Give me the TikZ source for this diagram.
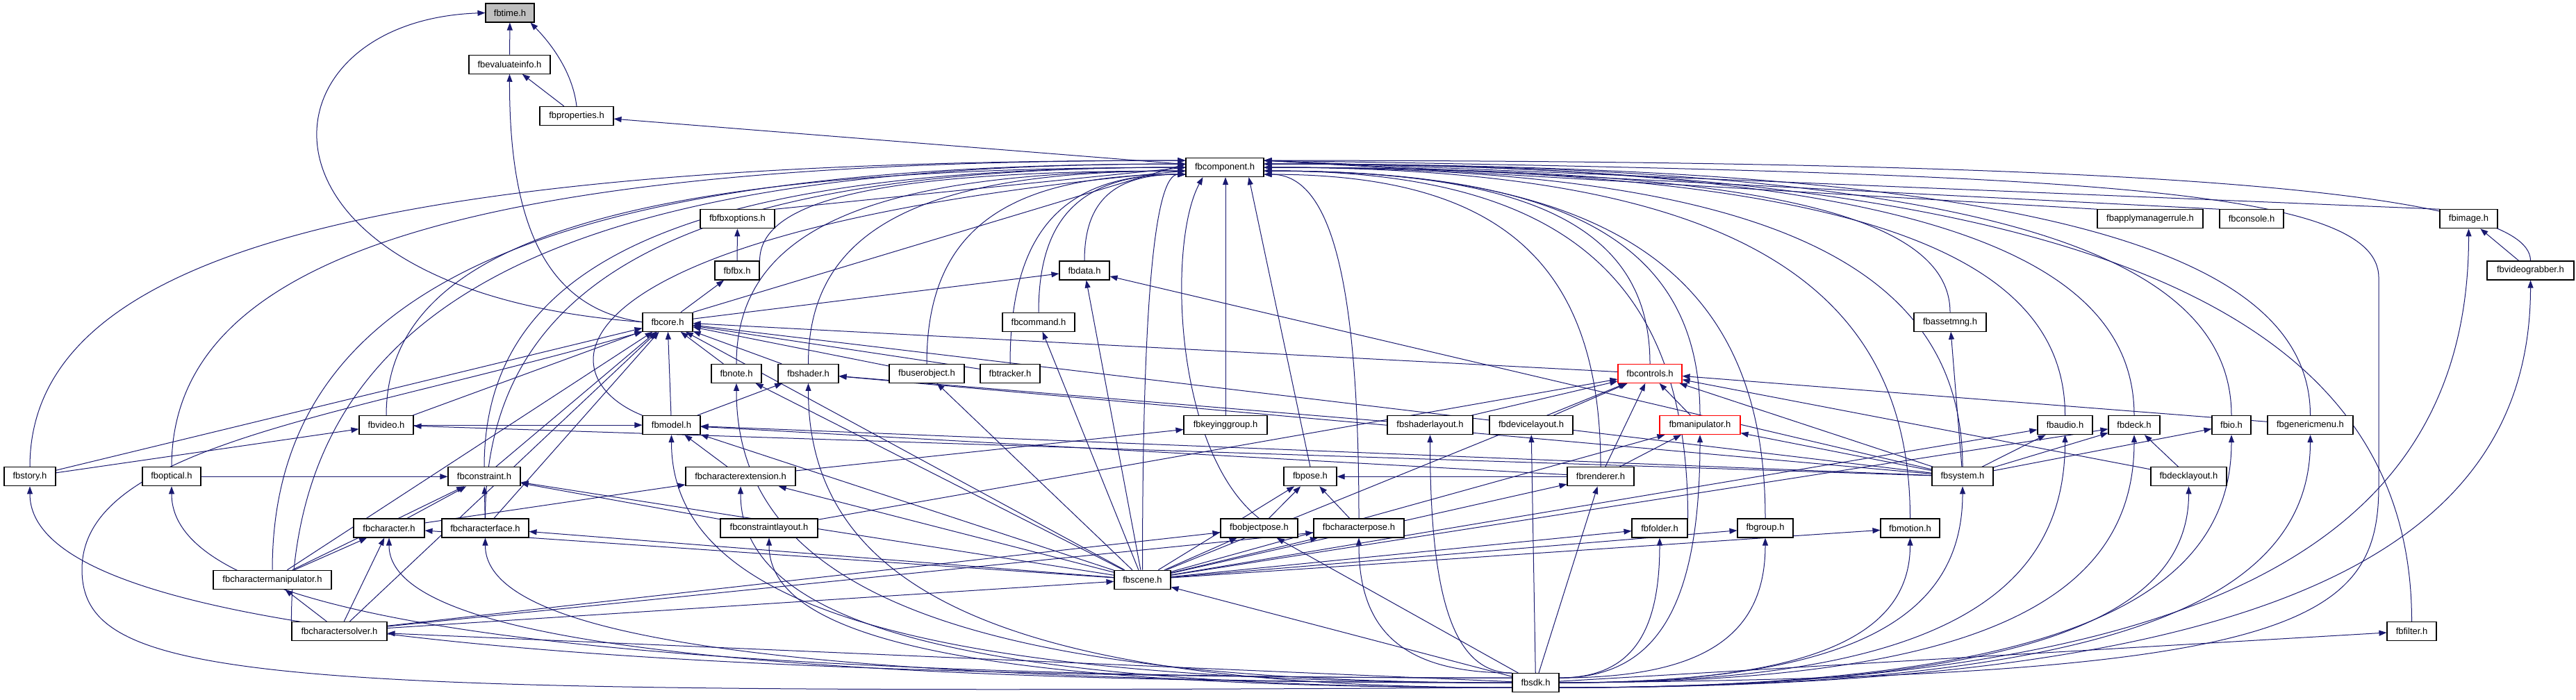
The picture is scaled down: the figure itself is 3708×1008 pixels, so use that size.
\documentclass[tikz,border=0pt]{standalone}
\usepackage{fontspec}
\setmainfont{Liberation Sans}
\usetikzlibrary{arrows.meta,calc}
\pgfdeclarelayer{bg}
\pgfsetlayers{bg,main}
\definecolor{mb}{RGB}{25,25,112}
\definecolor{tgray}{RGB}{191,191,191}
\tikzset{
 box/.style={draw=black,line width=1.1pt,fill=white,minimum height=27pt,inner sep=0pt,font=\fontsize{13}{15}\selectfont},
 e/.style={draw=mb,line width=1pt,-{Triangle[length=11pt,width=8pt]}},
}
\newcommand\bx[6][]{\pgfmathsetmacro\bw{#4-#3}\pgfmathsetmacro\bcx{(#3+#4)/2}\pgfmathsetmacro\bcy{18.5+74.2*#5}\node[box,#1,minimum width=\bw pt] (#2) at (\bcx,\bcy) {#6};}
\newcommand\SL[2]{\draw[e] (#1) -- (#2);}
\newcommand\VH[2]{\draw[e] (#1) .. controls ($(#1)!0.7!(#1 |- #2)$) and ($(#2)!0.7!(#1 |- #2)$) .. (#2);}
\newcommand\HV[2]{\draw[e] (#1) .. controls ($(#1)!0.7!(#2 |- #1)$) and ($(#2)!0.7!(#2 |- #1)$) .. (#2);}
\begin{document}
\begin{tikzpicture}[x=1pt,y=-1pt]
\useasboundingbox (0,0) rectangle (3708,1008);
\begin{pgfonlayer}{bg}
\fill[white] (0,0) rectangle (3708,1008);
\end{pgfonlayer}
% nodes
\bx[fill=tgray]{time}{699}{769}{0}{fbtime.h}
\bx{evi}{675}{792}{1}{fbevaluateinfo.h}
\bx{prop}{777}{883}{2}{fbproperties.h}
\bx{comp}{1707}{1819}{3}{fbcomponent.h}
\bx{fbxo}{1008}{1115}{4}{fbfbxoptions.h}
\bx{amr}{3019}{3171}{4}{fbapplymanagerrule.h}
\bx{cons}{3195}{3287}{4}{fbconsole.h}
\bx{img}{3512}{3595}{4}{fbimage.h}
\bx{fbx}{1029}{1093}{5}{fbfbx.h}
\bx{data}{1525}{1597}{5}{fbdata.h}
\bx{vgr}{3580}{3705}{5}{fbvideograbber.h}
\bx{core}{925}{997}{6}{fbcore.h}
\bx{cmd}{1443}{1547}{6}{fbcommand.h}
\bx{asset}{2755}{2859}{6}{fbassetmng.h}
\bx{note}{1024}{1096}{7}{fbnote.h}
\bx{shad}{1120}{1207}{7}{fbshader.h}
\bx{uobj}{1280}{1388}{7}{fbuserobject.h}
\bx{trk}{1411}{1497}{7}{fbtracker.h}
\bx[draw=red]{ctrl}{2329}{2421}{7}{fbcontrols.h}
\bx{vid}{517}{595}{8}{fbvideo.h}
\bx{mdl}{925}{1008}{8}{fbmodel.h}
\bx{kgrp}{1704}{1824}{8}{fbkeyinggroup.h}
\bx{shl}{1997}{2120}{8}{fbshaderlayout.h}
\bx{dvl}{2144}{2264}{8}{fbdevicelayout.h}
\bx[draw=red]{man}{2389}{2505}{8}{fbmanipulator.h}
\bx{aud}{2933}{3012}{8}{fbaudio.h}
\bx{deck}{3035}{3109}{8}{fbdeck.h}
\bx{io}{3184}{3240}{8}{fbio.h}
\bx{gmenu}{3264}{3387}{8}{fbgenericmenu.h}
\bx{story}{6}{80}{9}{fbstory.h}
\bx{opt}{205}{289}{9}{fboptical.h}
\bx{cnst}{645}{749}{9}{fbconstraint.h}
\bx{chext}{987}{1145}{9}{fbcharacterextension.h}
\bx{pose}{1848}{1924}{9}{fbpose.h}
\bx{rend}{2256}{2352}{9}{fbrenderer.h}
\bx{sys}{2781}{2869}{9}{fbsystem.h}
\bx{dkl}{3096}{3205}{9}{fbdecklayout.h}
\bx{chr}{509}{611}{10}{fbcharacter.h}
\bx{chface}{636}{761}{10}{fbcharacterface.h}
\bx{cnsl}{1037}{1177}{10}{fbconstraintlayout.h}
\bx{objp}{1757}{1868}{10}{fbobjectpose.h}
\bx{chpose}{1891}{2021}{10}{fbcharacterpose.h}
\bx{fold}{2349}{2429}{10}{fbfolder.h}
\bx{grp}{2501}{2581}{10}{fbgroup.h}
\bx{mot}{2707}{2792}{10}{fbmotion.h}
\bx{chman}{307}{477}{11}{fbcharactermanipulator.h}
\bx{scene}{1604}{1685}{11}{fbscene.h}
\bx{chsolv}{420}{557}{12}{fbcharactersolver.h}
\bx{filt}{3436}{3507}{12}{fbfilter.h}
\bx{sdk}{2177}{2244}{13}{fbsdk.h}
% entry coordinates
\coordinate (cwA) at ($(comp.west)+(0,-10)$);
\coordinate (cwB) at ($(comp.west)+(0,-5)$);
\coordinate (cwC) at (comp.west);
\coordinate (cwD) at ($(comp.west)+(0,5)$);
\coordinate (cwE) at ($(comp.west)+(0,10)$);
\coordinate (ceA) at ($(comp.east)+(0,-10)$);
\coordinate (ceB) at ($(comp.east)+(0,-5)$);
\coordinate (ceC) at (comp.east);
\coordinate (ceD) at ($(comp.east)+(0,5)$);
\coordinate (ceE) at ($(comp.east)+(0,10)$);
\coordinate (csA) at ($(comp.south west)+(25,0)$);
\coordinate (csB) at ($(comp.south east)+(-22,0)$);
\coordinate (swA) at ($(sdk.west)+(0,-7)$);
\coordinate (swB) at (sdk.west);
\coordinate (swC) at ($(sdk.west)+(0,7)$);
\coordinate (seA) at ($(sdk.east)+(0,-7)$);
\coordinate (seB) at (sdk.east);
\coordinate (seC) at ($(sdk.east)+(0,7)$);
\begin{pgfonlayer}{bg}
% top
\SL{evi}{time}
\draw[e] (prop.north) .. controls (825,110) and (800,70) .. ($(time.south east)+(-6,0)$);
\SL{prop}{evi}
\draw[e] (core.west) .. controls (330,420) and (360,30) .. (time.west);
\draw[e] (core.west) .. controls (790,445) and (733,330) .. (evi.south);
\SL{comp}{prop}
% to fbcomponent
\SL{core.north east}{cwB}
\VH{story.north}{cwA}
\VH{opt.north}{cwA}
\VH{chman.north}{cwB}
\VH{chsolv.north west}{cwB}
\VH{vid.north}{cwC}
\VH{chface.north}{cwC}
\VH{cnst.north}{cwC}
\draw[e] (mdl.north west) .. controls (780,540) and (780,330) .. (cwD);
\VH{fbx.north east}{cwD}
\SL{fbxo.north east}{cwC}
\VH{note.north}{cwD}
\VH{shad.north}{cwD}
\VH{uobj.north}{cwE}
\VH{trk.north}{cwE}
\VH{cmd.north}{cwE}
\VH{data.north}{cwE}
\VH{scene.north}{cwE}
\SL{kgrp.north}{kgrp.north |- comp.south}
\draw[e] (objp.north) .. controls (1690,650) and (1680,350) .. (csA);
\SL{pose.north}{csB}
\VH{chpose.north}{ceE}
\VH{rend.north}{ceE}
\VH{ctrl.north}{ceD}
\VH{man.north}{ceD}
\VH{fold.north east}{ceD}
\VH{grp.north}{ceD}
\VH{mot.north}{ceC}
\VH{asset.north}{ceC}
\VH{sys.north}{ceC}
\VH{aud.north}{ceC}
\VH{deck.north}{ceB}
\VH{io.north}{ceB}
\VH{gmenu.north}{ceB}
\VH{filt.north}{ceB}
\SL{amr.north west}{ceA}
\SL{cons.north west}{ceA}
\SL{img.north west}{ceA}
\VH{vgr.north}{ceA}
\draw[e] (seB) .. controls (3300,975) and (3424,900) .. (3424,700) -- (3424,400) .. controls (3424,270) and (3000,250) .. (ceA);
% to fbcore
\SL{story}{core}
\SL{vid}{core}
\SL{chman}{core}
\SL{chsolv}{core}
\SL{chface}{core}
\SL{cnst}{core}
\SL{mdl}{core}
\SL{note}{core}
\SL{shad}{core}
\SL{uobj}{core}
\SL{trk}{core}
\SL{scene}{core}
\SL{sys}{core}
\SL{ctrl}{core}
\draw[e] (swC) .. controls (400,1000) and (118,990) .. (118,820) .. controls (118,640) and (500,600) .. (core.south west);
% others
\SL{core}{fbx}
\SL{fbx}{fbxo}
\SL{core}{data}
\SL{vgr}{img}
\SL{story}{vid}
\SL{vid}{mdl}
\SL{opt}{cnst}
\SL{sys}{vid}
\SL{mdl}{shad}
\SL{shl}{shad}
\SL{shl}{ctrl}
\SL{dvl}{ctrl}
\SL{cnsl}{ctrl}
\SL{cnsl}{cnst}
\SL{sys}{shad}
\SL{sys}{mdl}
\SL{sys}{data}
\SL{sys}{asset}
\SL{sys}{man}
\SL{sys}{ctrl}
\SL{sys}{aud}
\SL{sys}{deck}
\SL{sys}{io}
\SL{rend}{ctrl}
\SL{rend}{man}
\SL{rend}{mdl}
\SL{rend}{pose}
\SL{scene}{data}
\SL{scene}{cmd}
\SL{scene}{uobj}
\SL{scene}{note}
\SL{scene}{mdl}
\SL{scene}{cnst}
\SL{scene}{chr}
\SL{scene}{chface}
\SL{scene}{chext}
\SL{scene}{pose}
\SL{scene}{objp}
\SL{scene}{chpose}
\SL{scene}{fold}
\SL{scene}{grp}
\SL{scene}{mot}
\SL{scene}{aud}
\SL{scene}{deck}
\SL{scene}{man}
\SL{scene}{rend}
\SL{scene}{ctrl}
\SL{objp}{pose}
\SL{chpose}{pose}
\SL{chsolv}{objp}
\SL{chsolv}{chpose}
\SL{chsolv}{scene}
\SL{chsolv}{chman}
\SL{chsolv}{chr}
\SL{chman}{chr}
\SL{chman}{cnst}
\SL{chr}{cnst}
\SL{chr}{chext}
\SL{chface}{cnst}
\SL{chext}{mdl}
\SL{chext}{kgrp}
\SL{dkl}{deck}
\SL{dkl}{ctrl}
\SL{gmenu}{ctrl}
\SL{man}{ctrl}
% from fbsdk
\HV{swA}{story.south}
\HV{swA}{opt.south}
\SL{sdk}{chsolv}
\HV{swB}{chr.south}
\HV{swB}{chface.south}
\HV{swB}{mdl.south}
\HV{swB}{note.south}
\HV{swC}{shad.south}
\HV{swC}{chext.south}
\HV{swC}{cnsl.south}
\SL{sdk}{scene}
\SL{sdk}{objp}
\HV{sdk.north west}{chpose.south}
\HV{sdk.north west}{shl.south}
\SL{sdk}{dvl}
\SL{sdk}{rend}
\HV{seA}{fold.south}
\HV{seA}{man.south}
\HV{seA}{grp.south}
\HV{seB}{mot.south}
\HV{seB}{sys.south}
\HV{seB}{aud.south}
\HV{seB}{deck.south}
\HV{seC}{dkl.south}
\HV{seC}{io.south}
\HV{seC}{gmenu.south}
\HV{seC}{img.south}
\HV{seC}{vgr.south}
\SL{sdk}{filt}
\end{pgfonlayer}
\end{tikzpicture}
\end{document}
